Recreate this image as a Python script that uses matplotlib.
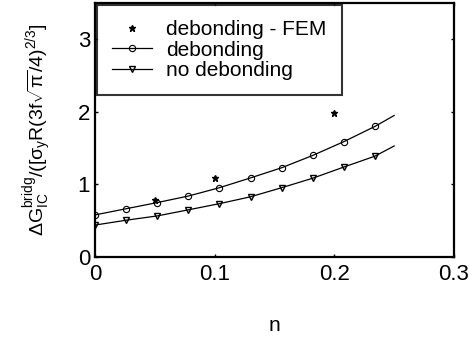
import matplotlib
matplotlib.use("Agg")
import matplotlib.pyplot as plt

n_model = [0.0, 0.026, 0.052, 0.078, 0.104, 0.130, 0.156, 0.182, 0.208, 0.234, 0.25]
g_debond = [0.58, 0.665, 0.75, 0.84, 0.955, 1.09, 1.23, 1.40, 1.59, 1.80, 1.95]
g_nodebond = [0.44, 0.507, 0.566, 0.65, 0.735, 0.83, 0.955, 1.086, 1.24, 1.39, 1.53]
n_fem = [0.05, 0.10, 0.20]
g_fem = [0.79, 1.09, 1.98]

plt.rcParams['font.family'] = ['Liberation Sans', 'DejaVu Sans']
plt.rcParams['mathtext.fontset'] = 'custom'
plt.rcParams['mathtext.rm'] = 'Liberation Sans'
plt.rcParams['mathtext.it'] = 'Liberation Sans'
plt.rcParams['mathtext.sf'] = 'Liberation Sans'

fig = plt.figure(figsize=(4.69, 3.49), dpi=100)
ax = fig.add_axes([0.2026, 0.2636, 0.7654, 0.7278])

ax.plot(n_fem, g_fem, linestyle='none', marker='*', color='black', markersize=5,
        label='debonding - FEM')
ax.plot(n_model, g_debond, color='black', lw=0.9, marker='o', markersize=4.5,
        markerfacecolor='none', markeredgewidth=0.8, markevery=list(range(10)),
        label='debonding')
ax.plot(n_model, g_nodebond, color='black', lw=0.9, marker='v', markersize=4.5,
        markerfacecolor='none', markeredgewidth=1.0, markevery=list(range(10)),
        label='no debonding')

ax.set_xlim(0, 0.3)
ax.set_ylim(0, 3.5)
ax.set_xticks([0, 0.1, 0.2, 0.3])
ax.set_xticklabels(['0', '0.1', '0.2', '0.3'])
ax.set_yticks([0, 1, 2, 3])
ax.tick_params(direction='in', top=True, right=True, length=2.5, width=1,
               labelsize=16)
ax.tick_params(axis='x', pad=5)
ax.tick_params(axis='y', pad=3.5)
for s in ax.spines.values():
    s.set_linewidth(1.6)

ax.set_xlabel('n', fontsize=15, labelpad=22)
ax.set_ylabel(r'$\Delta \mathrm{G}_{\mathrm{IC}}^{\mathrm{bridg}}/([\sigma_{\mathrm{y}}\mathrm{R}(3\mathrm{f}\sqrt{\pi}/4)^{2/3}]$',
              fontsize=14, labelpad=17)

leg = ax.legend(loc='upper left', fontsize=15, frameon=True, fancybox=False,
                edgecolor='black', borderaxespad=0.1, labelspacing=0.08,
                handlelength=1.9, handletextpad=0.7, borderpad=0.72)
leg.get_frame().set_linewidth(1.5)

fig.savefig('out.png', dpi=100)
